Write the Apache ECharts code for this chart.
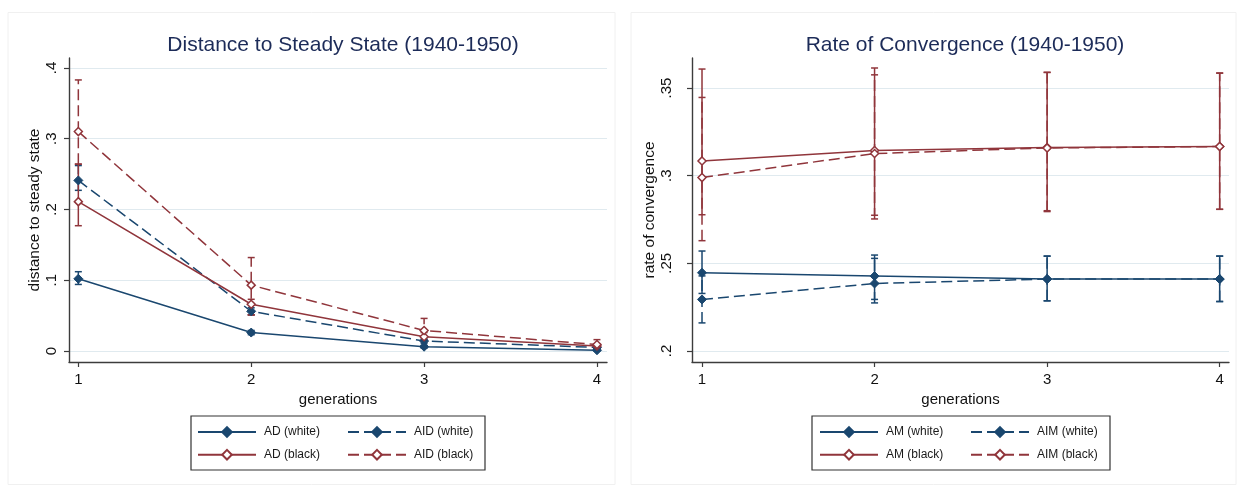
<!DOCTYPE html>
<html>
<head>
<meta charset="utf-8">
<script src="https://cdn.jsdelivr.net/npm/echarts@6/dist/echarts.min.js"></script>
<style>
  html, body { margin: 0; padding: 0; background: #ffffff; }
  #chart { width: 1244px; height: 487px; }
</style>
</head>
<body>
<div id="chart"></div>
<script>
// Generations on the horizontal axis of both panels
const generations = [1, 2, 3, 4];

// Panel 1: distance to steady state, point estimates with lower / upper bounds
const adWhite    = [0.102, 0.026, 0.006, 0.001];
const adWhiteLo  = [0.094, 0.023, 0.004, 0.000];
const adWhiteHi  = [0.112, 0.029, 0.008, 0.002];
const aidWhite   = [0.241, 0.056, 0.014, 0.005];
const aidWhiteLo = [0.227, 0.051, 0.011, 0.003];
const aidWhiteHi = [0.262, 0.061, 0.017, 0.007];
const adBlack    = [0.211, 0.066, 0.020, 0.007];
const adBlackLo  = [0.177, 0.051, 0.015, 0.004];
const adBlackHi  = [0.264, 0.073, 0.026, 0.010];
const aidBlack   = [0.310, 0.093, 0.029, 0.009];
const aidBlackLo = [0.264, 0.051, 0.015, 0.004];
const aidBlackHi = [0.383, 0.132, 0.046, 0.016];

// Panel 2: rate of convergence, point estimates with lower / upper bounds
const amWhite    = [0.2446, 0.2427, 0.2410, 0.2410];
const amWhiteLo  = [0.2328, 0.2294, 0.2286, 0.2282];
const amWhiteHi  = [0.2570, 0.2547, 0.2541, 0.2541];
const aimWhite   = [0.2294, 0.2385, 0.2410, 0.2410];
const aimWhiteLo = [0.2160, 0.2274, 0.2286, 0.2282];
const aimWhiteHi = [0.2428, 0.2528, 0.2541, 0.2541];
const amBlack    = [0.3084, 0.3143, 0.3160, 0.3166];
const amBlackLo  = [0.2777, 0.2774, 0.2800, 0.2808];
const amBlackHi  = [0.3608, 0.3575, 0.3589, 0.3585];
const aimBlack   = [0.2989, 0.3126, 0.3158, 0.3166];
const aimBlackLo = [0.2629, 0.2753, 0.2795, 0.2808];
const aimBlackHi = [0.3446, 0.3614, 0.3589, 0.3585];

// Tick values and their printed labels
const distTicks = [0, 0.1, 0.2, 0.3, 0.4];
const distTickLabels = ['0', '.1', '.2', '.3', '.4'];
const convTicks = [0.2, 0.25, 0.3, 0.35];
const convTickLabels = ['.2', '.25', '.3', '.35'];
const genTickLabels = ['1', '2', '3', '4'];

const NAVY = '#1a476f';
const MAROON = '#90353b';
const AXIS = '#3c3c3c';
const GRIDLINE = '#e0eaef';
const FONT = '"Liberation Sans", Arial, Helvetica, sans-serif';
const DASH = [11, 5];

function labelFor(ticks, labels) {
  return function (v) {
    for (let i = 0; i < ticks.length; i++) {
      if (Math.abs(ticks[i] - v) < 1e-9) return labels[i];
    }
    return '';
  };
}

function lineSeries(name, values, idx, color, dashed, hollow) {
  return {
    type: 'line',
    name: name,
    xAxisIndex: idx,
    yAxisIndex: idx,
    data: generations.map((g, i) => [g, values[i]]),
    symbol: 'diamond',
    symbolSize: hollow ? 8 : 9,
    showAllSymbol: true,
    lineStyle: { color: color, width: 1.5, type: dashed ? DASH : 'solid' },
    itemStyle: hollow
      ? { color: '#ffffff', borderColor: color, borderWidth: 1.5 }
      : { color: color, borderColor: color, borderWidth: 1 },
    emphasis: { disabled: true },
    animation: false,
    z: 3
  };
}

function capSeries(name, lo, hi, idx, color, dashed) {
  return {
    type: 'custom',
    name: name + ' bounds',
    xAxisIndex: idx,
    yAxisIndex: idx,
    data: generations.map((g, i) => [g, lo[i], hi[i]]),
    encode: { x: 0, y: [1, 2] },
    silent: true,
    animation: false,
    z: 2,
    renderItem: function (params, api) {
      const x = api.value(0);
      const a = api.coord([x, api.value(1)]);
      const b = api.coord([x, api.value(2)]);
      const w = 3.5;
      const capStyle = { stroke: color, lineWidth: 1.5 };
      return {
        type: 'group',
        children: [
          { type: 'line', shape: { x1: a[0], y1: a[1], x2: b[0], y2: b[1] },
            style: { stroke: color, lineWidth: 1.5, lineDash: dashed ? DASH : null } },
          { type: 'line', shape: { x1: a[0] - w, y1: a[1], x2: a[0] + w, y2: a[1] }, style: capStyle },
          { type: 'line', shape: { x1: b[0] - w, y1: b[1], x2: b[0] + w, y2: b[1] }, style: capStyle }
        ]
      };
    }
  };
}

function xAxisFor(idx, min, max) {
  return {
    gridIndex: idx,
    type: 'value',
    min: min,
    max: max,
    axisLine: { show: true, onZero: false, lineStyle: { color: AXIS, width: 1.4 } },
    axisTick: { show: true, customValues: generations, length: 5, lineStyle: { color: AXIS, width: 1.2 } },
    axisLabel: {
      customValues: generations, margin: 10, fontSize: 15, color: '#111', fontFamily: FONT,
      formatter: labelFor(generations, genTickLabels)
    },
    splitLine: { show: false },
    name: 'generations',
    nameLocation: 'middle',
    nameGap: 27,
    nameTextStyle: { fontSize: 15, color: '#111', fontFamily: FONT }
  };
}

function yAxisFor(idx, min, max, ticks, labels, name, labelMargin, nameGap) {
  return {
    gridIndex: idx,
    type: 'value',
    min: min,
    max: max,
    axisLine: { show: true, onZero: false, lineStyle: { color: AXIS, width: 1.4 } },
    axisTick: { show: true, customValues: ticks, length: 5, lineStyle: { color: AXIS, width: 1.2 } },
    axisLabel: {
      customValues: ticks, rotate: 90, margin: labelMargin, fontSize: 15, color: '#111', fontFamily: FONT,
      formatter: labelFor(ticks, labels)
    },
    splitLine: { show: true, lineStyle: { color: GRIDLINE, width: 1.2 } },
    name: name,
    nameLocation: 'middle',
    nameGap: nameGap,
    nameTextStyle: { fontSize: 15.5, color: '#111', fontFamily: FONT }
  };
}

function legendColumn(names, left) {
  return {
    data: names,
    orient: 'vertical',
    left: left,
    top: 426,
    padding: 0,
    itemWidth: 58,
    itemHeight: 12,
    itemGap: 10.7,
    selectedMode: false,
    textStyle: { fontSize: 12, color: '#1a1a1a', fontFamily: FONT, padding: [0, 0, 0, 3] }
  };
}

const chart = echarts.init(document.getElementById('chart'), null, { renderer: 'canvas' });

chart.setOption({
  backgroundColor: '#ffffff',
  animation: false,
  textStyle: { fontFamily: FONT },
  title: [
    { text: 'Distance to Steady State (1940-1950)', left: 338, top: 30, textAlign: 'center',
      textStyle: { fontSize: 21, fontWeight: 'normal', color: '#1c2b58', fontFamily: FONT } },
    { text: 'Rate of Convergence (1940-1950)', left: 960, top: 30, textAlign: 'center',
      textStyle: { fontSize: 21, fontWeight: 'normal', color: '#1c2b58', fontFamily: FONT } }
  ],
  grid: [
    { left: 69, top: 58, width: 538, height: 304, containLabel: false },
    { left: 692, top: 58, width: 537, height: 304, containLabel: false }
  ],
  xAxis: [
    xAxisFor(0, 0.946, 4.058),
    xAxisFor(1, 0.942, 4.054)
  ],
  yAxis: [
    yAxisFor(0, -0.0156, 0.414, distTicks, distTickLabels, 'distance to steady state', 10, 24),
    yAxisFor(1, 0.1937, 0.3671, convTicks, convTickLabels, 'rate of convergence', 18, 30)
  ],
  legend: [
    legendColumn(['AD (white)', 'AD (black)'], 197),
    legendColumn(['AID (white)', 'AID (black)'], 347),
    legendColumn(['AM (white)', 'AM (black)'], 819),
    legendColumn(['AIM (white)', 'AIM (black)'], 970)
  ],
  graphic: [
    { type: 'rect', shape: { x: 8, y: 12.5, width: 607, height: 472 }, silent: true, z: -1,
      style: { fill: 'none', stroke: '#f0f0f0', lineWidth: 1 } },
    { type: 'rect', shape: { x: 631, y: 12.5, width: 605, height: 472 }, silent: true, z: -1,
      style: { fill: 'none', stroke: '#f0f0f0', lineWidth: 1 } },
    { type: 'rect', shape: { x: 191, y: 416, width: 294, height: 54 }, silent: true,
      style: { fill: 'none', stroke: '#333333', lineWidth: 1.2 } },
    { type: 'rect', shape: { x: 812, y: 416, width: 298, height: 54 }, silent: true,
      style: { fill: 'none', stroke: '#333333', lineWidth: 1.2 } }
  ],
  series: [
    capSeries('AD (white)', adWhiteLo, adWhiteHi, 0, NAVY, false),
    capSeries('AID (white)', aidWhiteLo, aidWhiteHi, 0, NAVY, true),
    capSeries('AD (black)', adBlackLo, adBlackHi, 0, MAROON, false),
    capSeries('AID (black)', aidBlackLo, aidBlackHi, 0, MAROON, true),
    lineSeries('AD (white)', adWhite, 0, NAVY, false, false),
    lineSeries('AID (white)', aidWhite, 0, NAVY, true, false),
    lineSeries('AD (black)', adBlack, 0, MAROON, false, true),
    lineSeries('AID (black)', aidBlack, 0, MAROON, true, true),

    capSeries('AM (white)', amWhiteLo, amWhiteHi, 1, NAVY, false),
    capSeries('AIM (white)', aimWhiteLo, aimWhiteHi, 1, NAVY, true),
    capSeries('AM (black)', amBlackLo, amBlackHi, 1, MAROON, false),
    capSeries('AIM (black)', aimBlackLo, aimBlackHi, 1, MAROON, true),
    lineSeries('AM (white)', amWhite, 1, NAVY, false, false),
    lineSeries('AIM (white)', aimWhite, 1, NAVY, true, false),
    lineSeries('AM (black)', amBlack, 1, MAROON, false, true),
    lineSeries('AIM (black)', aimBlack, 1, MAROON, true, true)
  ]
});
</script>
</body>
</html>
